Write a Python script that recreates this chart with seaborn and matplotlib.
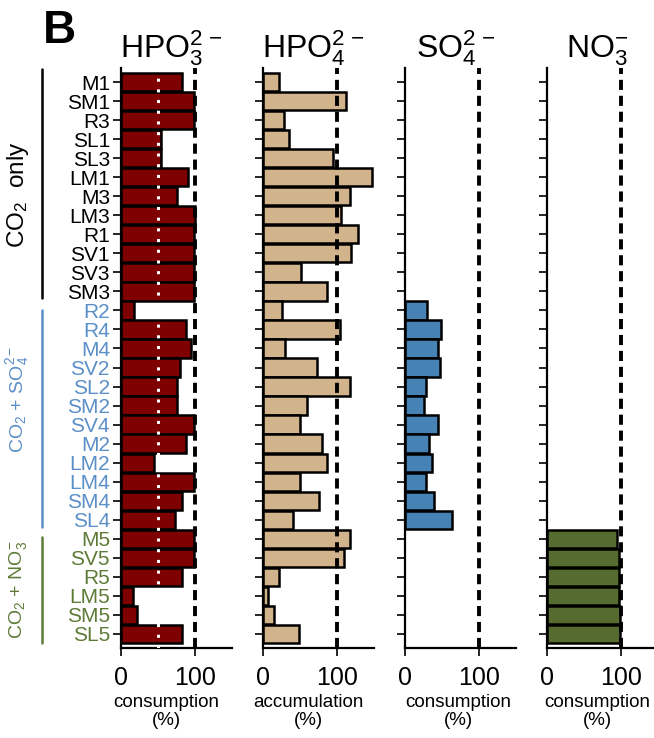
# ion consumption / accumulation per sample, four horizontal bar panels

import numpy as np
import pandas as pd
import matplotlib.pyplot as plt
import matplotlib.transforms as mtransforms
import seaborn as sns

sns.set_style("ticks")
plt.rcParams["font.family"] = ["Liberation Sans", "DejaVu Sans"]
plt.rcParams["mathtext.fontset"] = "custom"
plt.rcParams["mathtext.rm"] = "Liberation Sans"
plt.rcParams["mathtext.it"] = "Liberation Sans:italic"
plt.rcParams["mathtext.bf"] = "Liberation Sans:bold"
for key in ["text.color", "axes.labelcolor", "xtick.color", "ytick.color", "axes.edgecolor"]:
    plt.rcParams[key] = "black"

samples = ["M1", "SM1", "R3", "SL1", "SL3", "LM1", "M3", "LM3", "R1", "SV1", "SV3", "SM3",
           "R2", "R4", "M4", "SV2", "SL2", "SM2", "SV4", "M2", "LM2", "LM4", "SM4", "SL4",
           "M5", "SV5", "R5", "LM5", "SM5", "SL5"]
group_sizes = [12, 12, 6]
group_names = [r"CO$_2$  only", r"CO$_2$ + SO$_4^{2-}$", r"CO$_2$ + NO$_3^{-}$"]
group_text_colors = ["black", "#5b8fc7", "#5e7a37"]

nan = np.nan
hpo3 = [82, 99, 99, 54, 54, 90, 75, 100, 99, 99, 99, 99,
        18, 88, 94, 80, 75, 75, 98, 88, 44, 98, 83, 73,
        98, 98, 83, 16, 21, 82]
hpo4 = [22, 112, 29, 35, 95, 147, 117, 105, 129, 119, 52, 87,
        26, 104, 30, 73, 117, 60, 50, 80, 86, 50, 75, 41,
        117, 110, 22, 7, 15, 49]
so4 = [nan] * 12 + [30, 49, 45, 47, 29, 26, 44, 33, 36, 29, 39, 63] + [nan] * 6
no3 = [nan] * 24 + [95, 97, 97, 97, 98, 98]

panels = [
    (hpo3, r"HPO$_3^{2\,-}$", "consumption\n(%)", "#7f0000"),
    (hpo4, r"HPO$_4^{2\,-}$", "accumulation\n(%)", "#d2b48c"),
    (so4, r"SO$_4^{2\,-}$", "consumption\n(%)", "#4682b4"),
    (no3, r"NO$_3^{-}$", "consumption\n(%)", "#556b2f"),
]
label_x = [0.41, 0.41, 0.48, 0.45]

W, H = 654, 738
fig = plt.figure(figsize=(W / 100, H / 100), dpi=100)

lefts = [121, 263, 405, 547]
ax_w = 111
ax_top, ax_bot = 68, 648

axes = []
for k, (vals, title, xlab, col) in enumerate(panels):
    ax = fig.add_axes([lefts[k] / W, 1 - ax_bot / H, ax_w / W, (ax_bot - ax_top) / H])
    sns.barplot(x=vals, y=samples, order=samples, orient="h", color=col, saturation=1,
                edgecolor="black", linewidth=1.8, width=0.96, ax=ax)
    ax.set_xlim(0, 150)
    ax.set_ylim(29.74, -0.74)
    ax.set_xticks([0, 100])
    ax.set_xticklabels(["0", "100"], fontsize=18)
    ax.axvline(100, color="black", lw=2.8, ls=(0, (2.6, 1.5)), zorder=5)
    if k == 0:
        ax.axvline(50, color="white", lw=2.2, ls=(0, (1, 2.5)), zorder=5)
    ax.set_title(title, fontsize=23, pad=4, x=0.455)
    ax.set_xlabel(xlab, fontsize=13.5, linespacing=1.1)
    ax.xaxis.set_label_coords(label_x[k], -0.079)
    ax.set_ylabel("")
    sns.despine(ax=ax)
    for s in ["left", "bottom"]:
        ax.spines[s].set_linewidth(1.6)
    ax.tick_params(axis="both", length=6, width=1.2, direction="out")
    ax.tick_params(axis="x", pad=7)
    if k > 0:
        ax.set_yticklabels([])
    axes.append(ax)

# color the sample labels and ticks of the first panel by treatment
ax1 = axes[0]
ax1.tick_params(axis="y", labelsize=15, pad=2)
row_colors = []
for n, c in zip(group_sizes, group_text_colors):
    row_colors += [c] * n
for lab, tick, c in zip(ax1.get_yticklabels(), ax1.yaxis.get_major_ticks(), row_colors):
    lab.set_color(c)
    tick.tick1line.set_color(c)

# group brackets and labels
trans = mtransforms.blended_transform_factory(ax1.transAxes, ax1.transData)
line_spans = [(-0.7, 11.35), (11.98, 23.4), (23.9, 29.5)]
text_y = [5.9, 16.7, 26.7]
text_sizes = [17.5, 14, 14]
for (y0, y1), ty, name, c, fs in zip(line_spans, text_y, group_names, group_text_colors, text_sizes):
    ax1.plot([-0.71, -0.71], [y0, y1], color=c, lw=1.8, transform=trans, clip_on=False)
    ax1.text(-0.93, ty, name, rotation=90, ha="center", va="center", color=c,
             fontsize=fs, transform=trans)

fig.text(43 / W, 1 - 9 / H, "B", fontsize=33, fontweight="bold", ha="left", va="top")

fig.savefig("out.png", dpi=100)
plt.close()
